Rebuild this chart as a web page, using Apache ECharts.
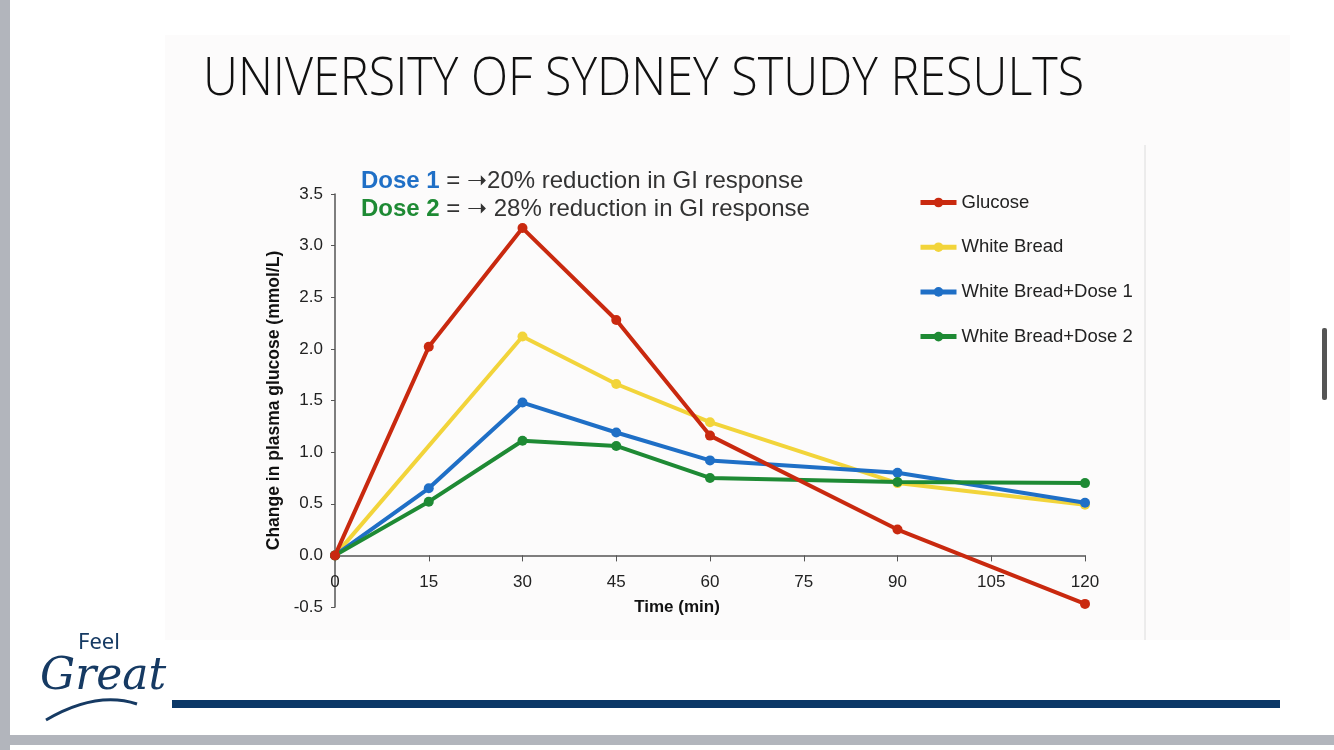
<!DOCTYPE html>
<html><head><meta charset="utf-8">
<script src="https://cdn.jsdelivr.net/npm/echarts@6/dist/echarts.min.js"></script>
<style>html,body{margin:0;padding:0;background:#fff}#c{width:1334px;height:750px}</style>
</head><body><div id="c"></div>
<script>
const seriesNames = ['Glucose','White Bread','White Bread+Dose 1','White Bread+Dose 2'];
const glucose = [[0,0],[15,2.02],[30,3.17],[45,2.28],[60,1.16],[90,0.25],[120,-0.47]];
const whiteBread = [[0,0],[30,2.12],[45,1.66],[60,1.29],[90,0.70],[120,0.49]];
const dose1 = [[0,0],[15,0.65],[30,1.48],[45,1.19],[60,0.92],[90,0.80],[120,0.51]];
const dose2 = [[0,0],[15,0.52],[30,1.11],[45,1.06],[60,0.75],[90,0.71],[120,0.70]];
const xTicks = [0,15,30,45,60,75,90,105,120];
const colors = ['#c9290f','#f2d43a','#1f6fc6','#1e8a34'];

const chart = echarts.init(document.getElementById('c'));
const mk = (name, data, color, z) => ({
  name, type:'line', data, z,
  symbol:'circle', symbolSize:10,
  lineStyle:{width:4, color}, itemStyle:{color},
  emphasis:{disabled:true}
});
const F = 'Liberation Sans, Arial, sans-serif';
chart.setOption({
  animation:false,
  backgroundColor:'#ffffff',
  graphic:[
    {type:'rect', shape:{x:0,y:0,width:10,height:750}, style:{fill:'#b2b5bc'}, z:-10},
    {type:'rect', shape:{x:0,y:735,width:1334,height:10}, style:{fill:'#b2b5bc'}, z:-10},
    {type:'rect', shape:{x:165,y:35,width:1125,height:605}, style:{fill:'#fcfbfb'}, z:-10},
    {type:'line', shape:{x1:1145,y1:145,x2:1145,y2:640}, style:{stroke:'#dcdcdc',lineWidth:1}, z:-5},
    {type:'rect', shape:{x:1322,y:328,width:5,height:72,r:2}, style:{fill:'#555'}},
    {type:'rect', shape:{x:172,y:700,width:1108,height:8}, style:{fill:'#0b3867'}},
    {type:'text', x:203, y:53, scaleY:1.1, style:{text:'UNIVERSITY OF SYDNEY STUDY RESULTS', font:'300 48.5px "Open Sans", sans-serif', fill:'#111'}},
    {type:'text', left:361, top:169, style:{
      rich:{
        b:{fill:'#1f6fc6', fontWeight:'bold', fontSize:24, fontFamily:F, lineHeight:28},
        g:{fill:'#1e8a34', fontWeight:'bold', fontSize:24, fontFamily:F, lineHeight:28},
        t:{fill:'#333', fontSize:24, fontFamily:F, lineHeight:28}
      },
      text:'{b|Dose 1}{t| = \u279d20% reduction in GI response}\n{g|Dose 2}{t| = \u279d 28% reduction in GI response}'
    }},
    {type:'text', left:78, top:632, style:{text:'Feel', font:'22px "Noto Sans", sans-serif', fill:'#163a63'}},
    {type:'text', left:40, top:656, style:{text:'Great', font:'italic 44px "DejaVu Serif", serif', fill:'#163a63'}},
    {type:'bezierCurve', shape:{x1:46,y1:720,x2:137,y2:704,cpx1:80,cpy1:700,cpx2:110,cpy2:695}, style:{stroke:'#163a63',lineWidth:3,fill:null}}
  ],
  legend:{
    orient:'vertical', left:913, top:188, itemGap:25.7, itemWidth:36, itemHeight:12,
    data:seriesNames,
    lineStyle:{width:5},
    textStyle:{fontSize:18.5, color:'#222', fontFamily:F}
  },
  grid:{left:335, right:249, top:194, bottom:143},
  xAxis:{
    type:'value', min:0, max:120, interval:15,
    offset:-51.6,
    name:'Time (min)', nameLocation:'middle', nameGap:43,
    nameTextStyle:{fontSize:17, fontWeight:'bold', color:'#111', fontFamily:F, padding:[0,66,0,0]},
    axisLine:{onZero:false, lineStyle:{color:'#555', width:1.5}},
    axisTick:{show:true, length:6, lineStyle:{color:'#555'}},
    axisLabel:{fontSize:17, color:'#222', margin:18, fontFamily:F,
      formatter:v => xTicks.includes(v) ? String(v) : ''},
    splitLine:{show:false}
  },
  yAxis:{
    type:'value', min:-0.5, max:3.5, interval:0.5,
    name:'Change in plasma glucose (mmol/L)', nameLocation:'middle', nameGap:50, nameRotate:90,
    nameTextStyle:{fontSize:17.5, fontWeight:'bold', color:'#111', fontFamily:F},
    axisLine:{show:true, lineStyle:{color:'#555', width:1.5}},
    axisTick:{show:true, length:4, lineStyle:{color:'#555'}},
    axisLabel:{fontSize:17, color:'#222', margin:12, fontFamily:F, formatter:v => v.toFixed(1)},
    splitLine:{show:false}
  },
  series:[
    mk(seriesNames[1], whiteBread, colors[1], 2),
    mk(seriesNames[2], dose1, colors[2], 3),
    mk(seriesNames[3], dose2, colors[3], 4),
    mk(seriesNames[0], glucose, colors[0], 5)
  ]
});
</script></body></html>
